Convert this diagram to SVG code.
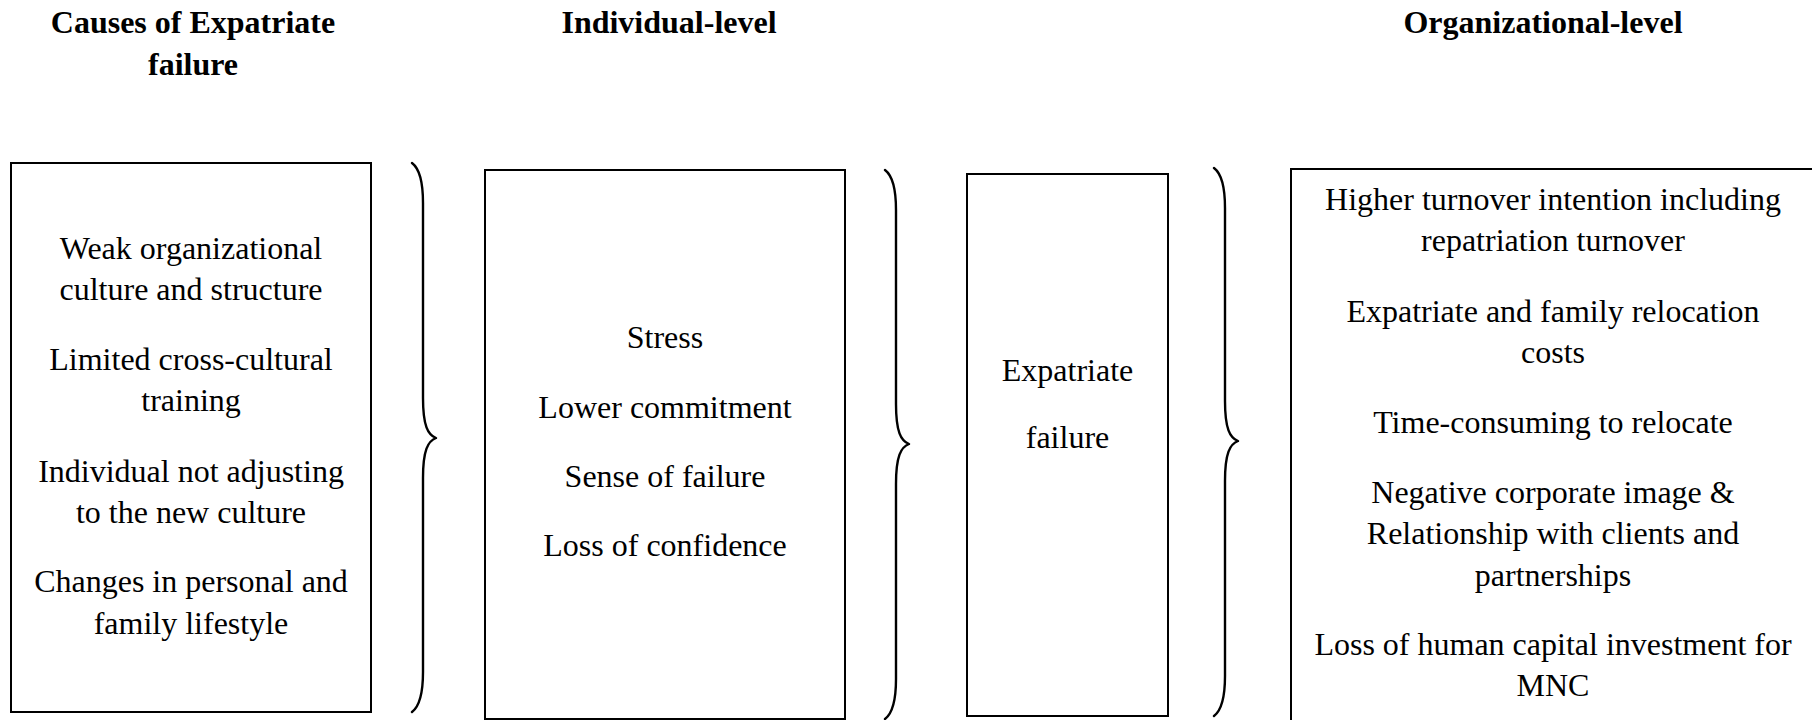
<svg xmlns="http://www.w3.org/2000/svg" width="1812" height="720" viewBox="0 0 1812 720">
  <style>
    .box { fill: #ffffff; stroke: #000000; stroke-width: 2; }
    .brace { fill: none; stroke: #000000; stroke-width: 2.4; stroke-linecap: round; stroke-linejoin: round; }
    .head { font-family: "Liberation Serif", "Times New Roman", serif; font-size: 32px; font-weight: bold; fill: #000000; text-anchor: middle; }
    .body { font-family: "Liberation Serif", "Times New Roman", serif; font-size: 32px; fill: #000000; text-anchor: middle; }
  </style>
  <rect width="1812" height="720" fill="#ffffff"/>

  <!-- column headings -->
  <g id="headings">
    <text class="head" x="193" y="33">Causes of Expatriate</text>
    <text class="head" x="193" y="75">failure</text>
    <text class="head" x="669" y="33">Individual-level</text>
    <text class="head" x="1543" y="33">Organizational-level</text>
  </g>

  <!-- causes -->
  <g id="causes">
    <rect class="box" x="11" y="163" width="360" height="549"/>
    <text class="body" x="191" y="259">Weak organizational</text>
    <text class="body" x="191" y="300">culture and structure</text>
    <text class="body" x="191" y="370">Limited cross-cultural</text>
    <text class="body" x="191" y="411">training</text>
    <text class="body" x="191" y="482">Individual not adjusting</text>
    <text class="body" x="191" y="523">to the new culture</text>
    <text class="body" x="191" y="592">Changes in personal and</text>
    <text class="body" x="191" y="634">family lifestyle</text>
  </g>

  <!-- individual-level effects -->
  <g id="individual">
    <rect class="box" x="485" y="170" width="360" height="549"/>
    <text class="body" x="665" y="348">Stress</text>
    <text class="body" x="665" y="418">Lower commitment</text>
    <text class="body" x="665" y="487">Sense of failure</text>
    <text class="body" x="665" y="556">Loss of confidence</text>
  </g>

  <!-- central outcome -->
  <g id="failure">
    <rect class="box" x="967" y="174" width="201" height="542"/>
    <text class="body" x="1067.5" y="381">Expatriate</text>
    <text class="body" x="1067.5" y="448">failure</text>
  </g>

  <!-- organizational-level effects -->
  <g id="organizational">
    <rect class="box" x="1291" y="169" width="524" height="560"/>
    <text class="body" x="1553" y="210">Higher turnover intention including</text>
    <text class="body" x="1553" y="251">repatriation turnover</text>
    <text class="body" x="1553" y="322">Expatriate and family relocation</text>
    <text class="body" x="1553" y="363">costs</text>
    <text class="body" x="1553" y="433">Time-consuming to relocate</text>
    <text class="body" x="1553" y="503">Negative corporate image &amp;</text>
    <text class="body" x="1553" y="544">Relationship with clients and</text>
    <text class="body" x="1553" y="586">partnerships</text>
    <text class="body" x="1553" y="655">Loss of human capital investment for</text>
    <text class="body" x="1553" y="696">MNC</text>
  </g>

  <!-- curly braces linking the columns -->
  <g id="connectors">
    <path class="brace" d="M412 163 C420 169 423 183 423 203 L423 398 C423 426 428 435 436 438 C428 441 423 450 423 478 L423 672 C423 692 420 706 412 712"/>
    <path class="brace" d="M885 170 C893 176 896 190 896 210 L896 404 C896 432 901 441 909 444 C901 447 896 456 896 484 L896 679 C896 699 893 713 885 719"/>
    <path class="brace" d="M1214 168 C1222 174 1225 188 1225 208 L1225 401 C1225 429 1230 438 1238 441 C1230 444 1225 453 1225 481 L1225 676 C1225 696 1222 710 1214 716"/>
  </g>
</svg>
